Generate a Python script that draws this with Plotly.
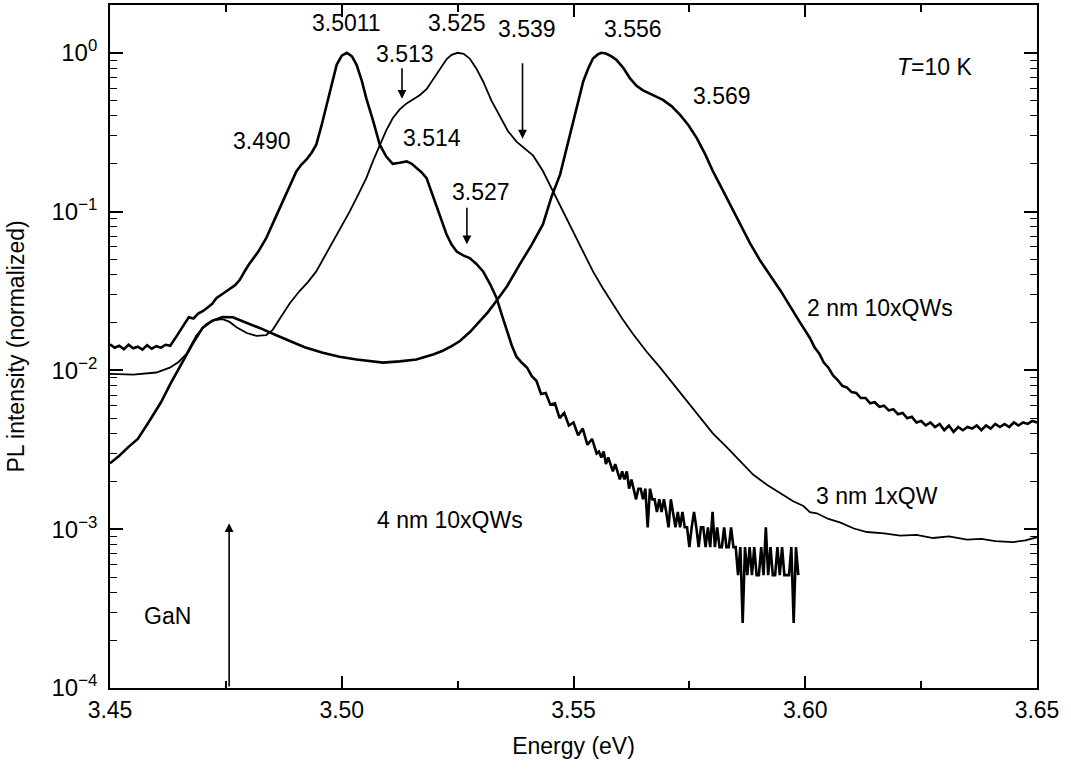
import math
import plotly.graph_objects as go

# ---- 4 nm 10xQWs (photon-counting, noisy tail) ----
e_4nm = [3.450, 3.451, 3.452, 3.453, 3.454, 3.455, 3.456, 3.457, 3.458, 3.459,
         3.460, 3.461, 3.462, 3.463, 3.464, 3.465, 3.466, 3.467, 3.468, 3.469,
         3.470, 3.471, 3.472, 3.473, 3.474, 3.4755, 3.477, 3.478, 3.479, 3.480,
         3.482, 3.4837, 3.4855, 3.4873, 3.489, 3.4902, 3.4913, 3.4924, 3.4935, 3.4945,
         3.4956, 3.4967, 3.4978, 3.4989, 3.5000, 3.5011, 3.5022, 3.5032, 3.5043, 3.5053,
         3.5068, 3.5082, 3.5096, 3.5110, 3.5125, 3.5140, 3.5151, 3.5161, 3.5172, 3.5183,
         3.5194, 3.5205, 3.5215, 3.5226, 3.5237, 3.5248, 3.5262, 3.5276, 3.5290, 3.5305,
         3.5320, 3.5334, 3.5345, 3.5356, 3.5367, 3.5377, 3.5388,
         3.540, 3.541, 3.542, 3.543, 3.544, 3.545, 3.546, 3.547, 3.548, 3.549,
         3.550, 3.551, 3.552, 3.553, 3.554, 3.555,
         3.5555, 3.5560, 3.5565, 3.5570, 3.5575, 3.5580, 3.5585, 3.5590, 3.5595, 3.5600,
         3.5605, 3.5610, 3.5615, 3.5620, 3.5625, 3.5630, 3.5635, 3.5640, 3.5645, 3.5650,
         3.5655, 3.5660, 3.5665, 3.5670, 3.5675, 3.5680, 3.5685, 3.5690, 3.5695, 3.5700,
         3.5705, 3.5710, 3.5715, 3.5720, 3.5725, 3.5730, 3.5735, 3.5740, 3.5745, 3.5750,
         3.5755, 3.5760, 3.5765, 3.5770, 3.5775, 3.5780, 3.5785, 3.5790, 3.5795, 3.5800,
         3.5805, 3.5810, 3.5815, 3.5820, 3.5825, 3.5830, 3.5835, 3.5840, 3.5845, 3.5850,
         3.5855, 3.5860, 3.5865, 3.5870, 3.5875, 3.5880, 3.5885, 3.5890, 3.5895, 3.5900,
         3.5905, 3.5910, 3.5915, 3.5920, 3.5925, 3.5930, 3.5935, 3.5940, 3.5945, 3.5950,
         3.5955, 3.5960, 3.5965, 3.5970, 3.5975, 3.5980, 3.5985]
pl_4nm = [0.0146, 0.0139, 0.0143, 0.0136, 0.0145, 0.0138, 0.0141, 0.0135, 0.0144, 0.0137,
          0.0142, 0.0139, 0.0145, 0.0143, 0.0158, 0.0177, 0.0195, 0.0216, 0.0212, 0.0228,
          0.0236, 0.0248, 0.0262, 0.0286, 0.0298, 0.0321, 0.0344, 0.0372, 0.0418, 0.0466,
          0.056, 0.068, 0.089, 0.116, 0.150, 0.179, 0.198, 0.213, 0.235, 0.264,
          0.345, 0.471, 0.64, 0.84, 0.96, 1.0, 0.95, 0.84, 0.67, 0.516,
          0.37, 0.264, 0.222, 0.200, 0.203, 0.207, 0.200, 0.188, 0.177, 0.1625,
          0.132, 0.105, 0.086, 0.072, 0.062, 0.056, 0.053, 0.051, 0.047, 0.042,
          0.035, 0.0286, 0.0225, 0.0177, 0.0143, 0.0122, 0.0112,
          0.0104, 0.0092, 0.0086, 0.0071, 0.0072, 0.0061, 0.0062, 0.0050, 0.0054, 0.0045,
          0.0047, 0.0039, 0.0043, 0.0034, 0.0037, 0.0030,
          3.084e-3, 2.827e-3, 3.084e-3, 2.570e-3, 2.827e-3, 2.570e-3, 2.313e-3, 2.570e-3, 2.313e-3, 2.056e-3,
          2.313e-3, 2.056e-3, 2.313e-3, 1.799e-3, 2.056e-3, 1.799e-3, 1.542e-3, 1.799e-3, 1.799e-3, 1.542e-3,
          1.799e-3, 1.028e-3, 1.799e-3, 1.542e-3, 1.542e-3, 1.285e-3, 1.542e-3, 1.285e-3, 1.542e-3, 1.285e-3,
          1.028e-3, 1.542e-3, 1.285e-3, 1.028e-3, 1.285e-3, 1.028e-3, 1.285e-3, 1.028e-3, 1.028e-3, 7.71e-4,
          1.028e-3, 1.285e-3, 1.028e-3, 7.71e-4, 1.028e-3, 1.028e-3, 7.71e-4, 1.028e-3, 7.71e-4, 1.285e-3,
          7.71e-4, 1.028e-3, 7.71e-4, 7.71e-4, 1.028e-3, 7.71e-4, 7.71e-4, 1.028e-3, 7.71e-4, 7.71e-4,
          5.14e-4, 7.71e-4, 2.57e-4, 7.71e-4, 5.14e-4, 7.71e-4, 5.14e-4, 7.71e-4, 5.14e-4, 5.14e-4,
          7.71e-4, 5.14e-4, 1.028e-3, 5.14e-4, 7.71e-4, 5.14e-4, 5.14e-4, 7.71e-4, 5.14e-4, 7.71e-4,
          5.14e-4, 5.14e-4, 5.14e-4, 7.71e-4, 2.57e-4, 7.71e-4, 5.14e-4]

# ---- 3 nm 1xQW ----
e_3nm = [3.450, 3.455, 3.460, 3.4629, 3.4648, 3.4665, 3.4686, 3.4708, 3.4725, 3.4743,
         3.4758, 3.4773, 3.4795, 3.4816, 3.4837, 3.4851, 3.4868, 3.4888, 3.4909, 3.4927,
         3.4945, 3.4963, 3.4981, 3.4999, 3.5017, 3.5035, 3.5053, 3.5068, 3.5082, 3.5096,
         3.5110, 3.5125, 3.5140, 3.5155, 3.5168, 3.5183, 3.5197, 3.5212, 3.5226, 3.5237,
         3.5250, 3.5263, 3.5276, 3.5290, 3.5305, 3.5323, 3.5341, 3.5359, 3.5377, 3.5395,
         3.5413, 3.5434, 3.5456, 3.5477, 3.5499, 3.5520, 3.5542, 3.5563, 3.5585, 3.5606,
         3.5628, 3.5657, 3.5687, 3.5715, 3.5744, 3.5772, 3.5801, 3.5830, 3.5859, 3.5888,
         3.5918, 3.5946, 3.5974, 3.5996, 3.6010, 3.6025, 3.6050, 3.6076, 3.6105, 3.6133,
         3.6170, 3.6205, 3.6240, 3.6276, 3.6310, 3.6349, 3.6380, 3.6410, 3.6449, 3.6475,
         3.6500]
pl_3nm = [0.0095, 0.0094, 0.0097, 0.0104, 0.0113, 0.0127, 0.0165, 0.0196, 0.0207, 0.0210,
          0.0202, 0.0187, 0.0172, 0.0165, 0.0167, 0.0180, 0.0215, 0.0265, 0.0316, 0.0360,
          0.042, 0.052, 0.065, 0.081, 0.100, 0.127, 0.1625, 0.210, 0.264, 0.325,
          0.387, 0.440, 0.480, 0.510, 0.540, 0.590, 0.680, 0.800, 0.910, 0.970,
          1.000, 0.985, 0.920, 0.800, 0.660, 0.500, 0.400, 0.320, 0.276, 0.250,
          0.225, 0.180, 0.134, 0.100, 0.075, 0.056, 0.042, 0.033, 0.026, 0.021,
          0.017, 0.0132, 0.0104, 0.0082, 0.0064, 0.0051, 0.0040, 0.0033, 0.0027, 0.0022,
          0.0019, 0.00168, 0.00150, 0.00140, 0.00128, 0.00126, 0.00116, 0.00110, 0.00101, 0.00096,
          0.00094, 0.00091, 0.00092, 0.00088, 0.00090, 0.00086, 0.00087, 0.00084, 0.00083, 0.00085,
          0.00089]

# ---- 2 nm 10xQWs ----
e_2nm = [3.450, 3.452, 3.454, 3.456, 3.4585, 3.461, 3.463, 3.465, 3.4665, 3.468,
         3.470, 3.472, 3.4743, 3.4765, 3.4786, 3.481, 3.4829, 3.486, 3.4888, 3.492,
         3.4959, 3.4995, 3.5032, 3.506, 3.5089, 3.5125, 3.5161, 3.5197, 3.5218, 3.5237,
         3.5255, 3.5277, 3.5298, 3.5315, 3.5330, 3.5357, 3.5384, 3.5410, 3.5434, 3.5453,
         3.5471, 3.5485, 3.5499, 3.5510, 3.5521, 3.5532, 3.5542, 3.5553, 3.5560, 3.5570,
         3.5582, 3.5593, 3.5608, 3.5622, 3.5636, 3.5650, 3.5672, 3.5693, 3.5712, 3.5730,
         3.5748, 3.5766, 3.5784, 3.5801, 3.5820, 3.5838, 3.5860, 3.5881, 3.5903, 3.5946,
         3.5989,
         3.600, 3.601, 3.602, 3.603, 3.604, 3.605, 3.606, 3.607, 3.608, 3.609,
         3.610, 3.611, 3.612, 3.613, 3.614, 3.615, 3.616, 3.617, 3.618, 3.619,
         3.620, 3.621, 3.622, 3.623, 3.624, 3.625, 3.626, 3.627, 3.628, 3.629,
         3.630, 3.631, 3.632, 3.633, 3.634, 3.635, 3.636, 3.637, 3.638, 3.639,
         3.640, 3.641, 3.642, 3.643, 3.644, 3.645, 3.646, 3.647, 3.648, 3.649,
         3.650]
pl_2nm = [0.0026, 0.0029, 0.0033, 0.0037, 0.0048, 0.0063, 0.0082, 0.0105, 0.0127, 0.0150,
          0.0186, 0.0205, 0.0217, 0.0216, 0.0204, 0.0192, 0.0182, 0.0166, 0.0153, 0.0140,
          0.0129, 0.0122, 0.0117, 0.0114, 0.0112, 0.0114, 0.0117, 0.0126, 0.0133, 0.0142,
          0.0153, 0.0175, 0.0204, 0.0232, 0.0265, 0.034, 0.0465, 0.062, 0.083, 0.125,
          0.171, 0.25, 0.369, 0.50, 0.66, 0.80, 0.92, 0.98, 1.0, 0.99,
          0.95, 0.90, 0.80, 0.69, 0.62, 0.58, 0.54, 0.505, 0.46, 0.406,
          0.35, 0.29, 0.23, 0.179, 0.14, 0.111, 0.083, 0.063, 0.049, 0.032,
          0.020,
          0.0177, 0.0160, 0.0140, 0.0128, 0.0112, 0.0104, 0.0093, 0.0087, 0.0080, 0.0078,
          0.0073, 0.0072, 0.0067, 0.0067, 0.0062, 0.0063, 0.0059, 0.0060, 0.0056, 0.0057,
          0.0053, 0.0054, 0.0050, 0.0051, 0.0047, 0.0048, 0.0045, 0.0047, 0.0044, 0.0046,
          0.0042, 0.0045, 0.0041, 0.0044, 0.0042, 0.0044, 0.0043, 0.0045, 0.0042, 0.0045,
          0.0043, 0.0046, 0.0044, 0.0046, 0.0044, 0.0047, 0.0045, 0.0047, 0.0046, 0.0048,
          0.0047]

# axis ticks
x_major = [3.45, 3.50, 3.55, 3.60, 3.65]
x_minor = [3.475, 3.525, 3.575, 3.625]
y_major = [1e-4, 1e-3, 1e-2, 1e-1, 1e0]
y_major_text = ["10<sup>\u22124</sup>", "10<sup>\u22123</sup>", "10<sup>\u22122</sup>",
                "10<sup>\u22121</sup>", "10<sup>0</sup>"]
y_minor = [m * 10 ** d for d in range(-4, 1) for m in range(2, 10)]

# peak / shoulder labels: (text, energy, intensity at label centre)
peak_labels = [
    ("3.490", 3.4829, 0.280),
    ("3.5011", 3.5011, 1.54),
    ("3.513", 3.5136, 0.985),
    ("3.525", 3.5248, 1.54),
    ("3.539", 3.5399, 1.42),
    ("3.514", 3.5194, 0.292),
    ("3.527", 3.5300, 0.132),
    ("3.556", 3.5628, 1.42),
    ("3.569", 3.5821, 0.537),
]
# marker arrows: (energy, tail intensity, tip intensity)
peak_arrows = [
    (3.513, 0.817, 0.514),
    (3.539, 0.878, 0.288),
    (3.527, 0.108, 0.0622),
    (3.4757, 1e-4, 1.09e-3),
]
series_labels = [
    ("2 nm 10xQWs", 3.6162, 0.0247),
    ("3 nm 1xQW", 3.6155, 0.00163),
    ("4 nm 10xQWs", 3.5233, 0.00114),
    ("GaN", 3.4624, 2.83e-4),
]

FONT = "Liberation Sans, Arial, Helvetica, sans-serif"
FS = 23

fig = go.Figure()
fig.add_trace(go.Scatter(x=e_4nm, y=pl_4nm, mode="lines", name="4 nm 10xQWs",
                         line=dict(color="black", width=2.6)))
fig.add_trace(go.Scatter(x=e_3nm, y=pl_3nm, mode="lines", name="3 nm 1xQW",
                         line=dict(color="black", width=1.8)))
fig.add_trace(go.Scatter(x=e_2nm, y=pl_2nm, mode="lines", name="2 nm 10xQWs",
                         line=dict(color="black", width=2.6)))

annotations = []
for text, e, v in peak_labels + series_labels:
    annotations.append(dict(x=e, y=math.log10(v), xref="x", yref="y", text=text,
                            showarrow=False, font=dict(size=FS, color="black", family=FONT)))
annotations.append(dict(x=3.6279, y=math.log10(0.817), xref="x", yref="y",
                        text="<i>T</i>=10 K", showarrow=False,
                        font=dict(size=FS, color="black", family=FONT)))
for e, tail, tip in peak_arrows:
    annotations.append(dict(x=e, y=math.log10(tip), ax=e, ay=math.log10(tail),
                            xref="x", yref="y", axref="x", ayref="y", text="",
                            showarrow=True, arrowhead=2, arrowsize=1.1,
                            arrowwidth=1.6, arrowcolor="black"))

fig.update_layout(
    width=1071, height=769,
    margin=dict(l=110, r=34, t=3, b=81),
    paper_bgcolor="white", plot_bgcolor="white",
    showlegend=False,
    font=dict(family=FONT, size=FS, color="black"),
    annotations=annotations,
)
fig.update_xaxes(
    range=[3.45, 3.65], tickvals=x_major, ticktext=["%.2f" % v for v in x_major],
    ticks="inside", ticklen=12, tickwidth=1.5, tickcolor="black",
    minor=dict(tickvals=x_minor, ticks="inside", ticklen=7, tickwidth=1.5, tickcolor="black"),
    showline=True, linecolor="black", linewidth=1.8, mirror="allticks",
    showgrid=False, zeroline=False,
    tickfont=dict(size=FS), title=dict(text="Energy (eV)", font=dict(size=FS), standoff=16),
)
fig.update_yaxes(
    type="log", range=[-4, 0.301], tickvals=y_major, ticktext=y_major_text,
    ticks="inside", ticklen=13, tickwidth=1.5, tickcolor="black",
    minor=dict(tickvals=y_minor, ticks="inside", ticklen=7, tickwidth=1.3, tickcolor="black"),
    showline=True, linecolor="black", linewidth=1.8, mirror="allticks",
    showgrid=False, zeroline=False, ticklabelstandoff=6,
    tickfont=dict(size=FS + 1), title=dict(text="PL intensity (normalized)", font=dict(size=FS), standoff=20),
)

fig.write_html("out.html")
